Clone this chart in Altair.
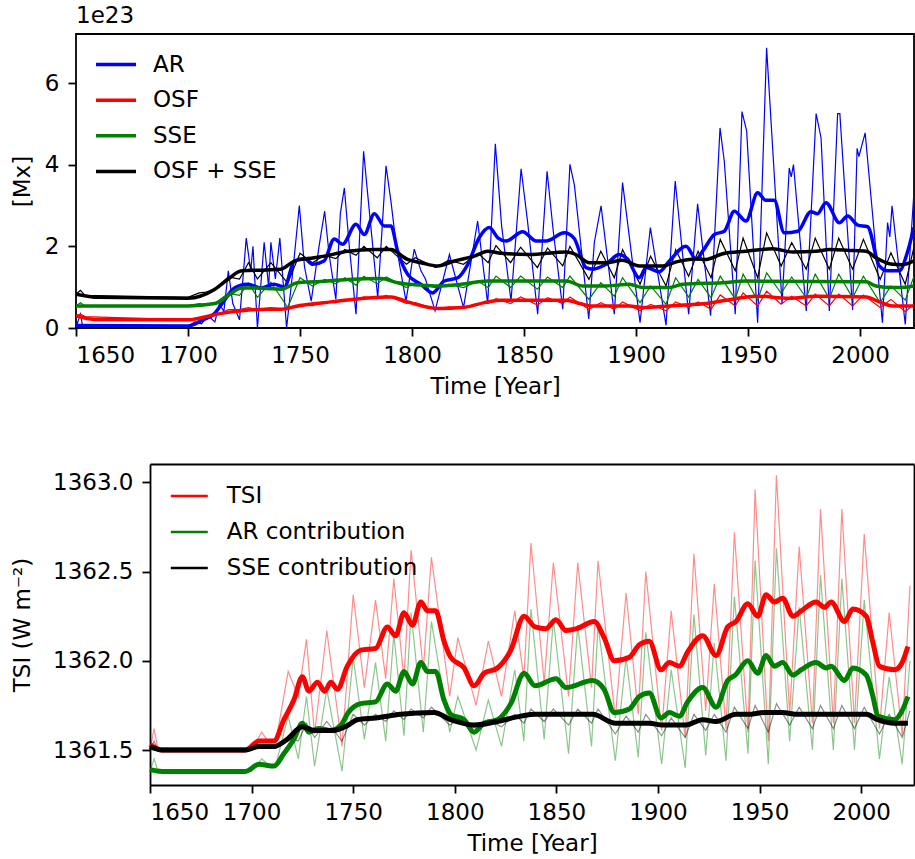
import altair as alt
import pandas as pd

FONT = "DejaVu Sans"
FS = 23

# ---------------- top panel (values in units of 1e23 Mx) ----------------
ar_thin_yr = [1650, 1652, 1653, 1700, 1703, 1706, 1709, 1712, 1714, 1716, 1718, 1720, 1723,
              1726, 1728, 1729, 1731, 1734, 1736, 1737, 1739, 1741, 1744, 1747, 1749.7, 1752,
              1755, 1758.5, 1761, 1763, 1766, 1768, 1769.8, 1772, 1775, 1778.4, 1780, 1784.7,
              1788.4, 1790.6, 1793, 1797.3, 1801, 1804, 1806, 1810.3, 1816.7, 1823, 1829.3,
              1833.8, 1837.2, 1840, 1844.2, 1848.7, 1851.6, 1856.1, 1860.3, 1863, 1867.3,
              1870.5, 1872.5, 1878.9, 1881.4, 1884.4, 1890.3, 1894, 1901.8, 1906.4, 1913.4,
              1917.5, 1923.5, 1927.5, 1933.3, 1937.5, 1939.4, 1944.3, 1947.3, 1949.4, 1954.3,
              1958.3, 1965.2, 1968.4, 1969.3, 1970.3, 1976, 1980.4, 1982.6, 1986.3, 1990,
              1991, 1996.7, 1998.7, 1999.5, 2002.3, 2010, 2012.3, 2013.3, 2014.3, 2020.2, 2024.2]
ar_thin_val = [0.02, 0.34, 0.03, 0.03, 0.15, 0.10, 0.30, 0.15, 0.60, 0.40, 1.40, 0.60, 0.20,
               2.20, 1.40, 2.00, 0.00, 2.10, 1.00, 2.10, 1.20, 2.20, 0.00, 1.50, 3.00, 1.50,
               0.66, 2.00, 2.86, 1.80, 0.70, 2.80, 3.43, 2.00, 0.34, 4.33, 3.40, 0.74,
               3.97, 3.10, 2.00, 0.66, 1.93, 1.40, 1.20, 0.42, 1.80, 0.50, 2.62,
               0.59, 4.51, 2.50, 0.66, 3.90, 2.60, 0.34, 3.84, 2.40, 0.46,
               4.01, 3.50, 0.22, 2.10, 2.99, 0.34, 3.56, 0.13, 2.46, 0.07,
               3.60, 0.34, 3.04, 0.30, 4.90, 4.09, 0.34, 5.30, 4.82, 0.13,
               6.86, 0.59, 3.92, 3.70, 4.00, 0.42, 5.25, 4.66, 0.42, 5.25,
               5.25, 0.44, 4.40, 4.20, 4.78, 0.13, 2.58, 2.23, 2.99, 0.09, 3.43]

ar_yr = [1650, 1700, 1706, 1711.7, 1716, 1720.7, 1726.6, 1732.6, 1738.4, 1743, 1747.5, 1752,
         1755.7, 1760.7, 1765.3, 1769, 1775, 1778.7, 1783.2, 1787.6, 1790.6, 1793.6, 1798,
         1804, 1809.2, 1814.4, 1820.4, 1824.9, 1830, 1834.5, 1838.3, 1842, 1849.4, 1855.4,
         1859.8, 1868, 1872.3, 1877.7, 1880.7, 1886.6, 1892.5, 1896, 1901.5, 1904.5, 1910.4,
         1914.9, 1922.3, 1926.8, 1930, 1935, 1939.4, 1943.9, 1949.1, 1954.3, 1957.9, 1961.7,
         1966.2, 1972.2, 1978.1, 1981, 1984.8, 1990.8, 1994.5, 1999, 2003.4, 2008.6, 2012.3,
         2017.5, 2021.3, 2024]
ar_val = [0.06, 0.05, 0.18, 0.35, 0.66, 0.98, 1.07, 0.98, 1.07, 1.00, 1.64, 1.70,
          1.56, 1.64, 2.18, 2.05, 2.54, 2.29, 2.80, 2.50, 2.50, 1.88, 1.32,
          1.07, 0.86, 1.15, 1.23, 1.56, 2.21, 2.46, 2.21, 2.13, 2.36, 2.13,
          2.13, 2.33, 2.20, 1.48, 1.44, 1.56, 1.80, 1.70, 1.23, 1.48, 1.38,
          1.64, 2.00, 1.69, 1.90, 2.29, 2.37, 2.86, 2.62, 3.31, 3.13, 3.13,
          2.33, 2.37, 2.85, 2.80, 3.07, 2.58, 2.74, 2.52, 2.48, 1.52, 1.40,
          1.40, 1.88, 2.46]

osf_yr = [1650, 1658, 1700, 1712.9, 1723.7, 1735, 1741.5, 1749, 1763.9, 1778.7, 1790.6, 1798,
          1811.5, 1823.4, 1833.8, 1839.7, 1868.8, 1874.8, 1880.7, 1897, 1903, 1914.9, 1926.8,
          1931.3, 1940.2, 1953.5, 1968.4, 1980.4, 2002.7, 2008.6, 2014.6, 2024]
osf_val = [0.30, 0.21, 0.20, 0.34, 0.42, 0.46, 0.46, 0.54, 0.64, 0.73, 0.76, 0.64,
           0.48, 0.51, 0.64, 0.68, 0.68, 0.60, 0.54, 0.54, 0.50, 0.54, 0.58,
           0.60, 0.68, 0.78, 0.73, 0.78, 0.76, 0.64, 0.54, 0.54]

sse_yr = [1650, 1700, 1712, 1718, 1724, 1735, 1741.5, 1749, 1756.4, 1771.4, 1786.2, 1793.6,
          1804, 1811.5, 1821.9, 1833.8, 1868.8, 1876.3, 1886.6, 1897, 1903, 1914.9, 1920.8,
          1938.7, 1949.1, 2002.7, 2007.1, 2014.6, 2020.5, 2024]
sse_val = [0.54, 0.54, 0.60, 0.80, 0.98, 0.97, 0.95, 1.11, 1.13, 1.19, 1.21, 1.11,
           1.05, 1.03, 1.07, 1.15, 1.15, 1.03, 1.03, 1.07, 0.99, 0.99, 1.07,
           1.11, 1.15, 1.13, 1.03, 0.99, 1.00, 1.03]

sum_yr = [1650, 1660, 1700, 1712, 1718, 1724, 1735, 1741.5, 1747.5, 1753.5, 1761, 1771.4,
          1783.2, 1790.6, 1798, 1804, 1811.5, 1818.9, 1827.8, 1833.8, 1839.7, 1852.4, 1868.8,
          1873.2, 1879.2, 1886.6, 1894, 1901.5, 1912, 1918, 1926.8, 1931.3, 1938.7, 1949.1,
          1961, 1969.9, 1980.4, 1986.3, 1995.2, 2002.7, 2007.1, 2014.6, 2019, 2024]
sum_val = [0.83, 0.75, 0.73, 0.95, 1.20, 1.40, 1.42, 1.44, 1.64, 1.70, 1.76, 1.88,
           1.92, 1.92, 1.68, 1.60, 1.52, 1.64, 1.76, 1.88, 1.83, 1.80, 1.86,
           1.80, 1.60, 1.60, 1.66, 1.52, 1.52, 1.62, 1.69, 1.68, 1.82, 1.88,
           1.94, 1.86, 1.88, 1.92, 1.90, 1.88, 1.72, 1.56, 1.55, 1.64]

# years of the cycle minima / maxima used by the annual OSF, SSE and contribution curves
cyc_yr = [1650, 1652, 1654, 1700, 1705, 1708,
          1712, 1718, 1723, 1727, 1731, 1737, 1744.5, 1750, 1755.5, 1761, 1766, 1770,
          1775, 1778.5, 1784.5, 1788.5, 1797.5, 1801.5, 1810.5, 1816.5, 1823, 1829.5,
          1834, 1837.5, 1844, 1848.5, 1856, 1860.5, 1867.3, 1870.5, 1879, 1884.3, 1890.3,
          1894, 1901.8, 1906.5, 1913.4, 1917.7, 1923.5, 1927.7, 1933.5, 1937.6, 1944.3,
          1947.8, 1954.3, 1958.3, 1964.8, 1969.5, 1976, 1980, 1986.3, 1990.5, 1996.7,
          2001.5, 2009, 2013.8, 2020.2, 2024]
osf_thin_val = [0.30, 0.34, 0.28, 0.20, 0.25, 0.28,
                0.30, 0.45, 0.45, 0.50, 0.45, 0.50, 0.45, 0.58, 0.55, 0.64, 0.62, 0.70,
                0.68, 0.76, 0.72, 0.80, 0.60, 0.62, 0.46, 0.52, 0.50, 0.60,
                0.60, 0.72, 0.60, 0.76, 0.56, 0.74, 0.60, 0.76, 0.46, 0.62, 0.46,
                0.64, 0.42, 0.58, 0.42, 0.64, 0.50, 0.64, 0.46, 0.81, 0.54,
                0.86, 0.54, 0.90, 0.58, 0.78, 0.54, 0.83, 0.54, 0.83, 0.54,
                0.81, 0.50, 0.70, 0.40, 0.58]
sse_thin_val = [0.54, 0.62, 0.54, 0.54, 0.60, 0.58,
                0.60, 0.85, 0.80, 1.10, 0.75, 1.12, 0.50, 1.23, 1.03, 1.19, 1.08, 1.23,
                1.05, 1.27, 1.08, 1.25, 0.99, 1.11, 0.99, 1.07, 0.99, 1.15,
                0.99, 1.27, 0.99, 1.27, 0.95, 1.25, 0.99, 1.27, 0.70, 1.11, 0.78,
                1.23, 0.62, 1.03, 0.58, 1.23, 0.76, 1.19, 0.74, 1.27, 0.71,
                1.32, 0.68, 1.35, 0.85, 1.25, 0.74, 1.32, 0.72, 1.32, 0.74,
                1.27, 0.62, 1.03, 0.68, 1.25]
sum_thin_val = [0.83, 0.92, 0.80, 0.75, 0.86, 0.88,
                0.95, 1.25, 1.20, 1.60, 1.20, 1.60, 1.10, 1.83, 1.60, 1.78, 1.70, 1.92,
                1.78, 2.00, 1.72, 2.00, 1.56, 1.72, 1.48, 1.66, 1.56, 1.83,
                1.60, 2.02, 1.60, 1.98, 1.48, 1.96, 1.52, 2.00, 1.19, 1.88, 1.23,
                1.92, 1.07, 1.76, 1.03, 1.92, 1.27, 1.88, 1.23, 2.17, 1.40,
                2.20, 1.23, 2.33, 1.52, 2.09, 1.44, 2.20, 1.44, 2.20, 1.44,
                2.17, 1.19, 1.84, 1.07, 1.96]

# ---------------- bottom panel (W m-2) ----------------
tsi_yr = [1650, 1656, 1697, 1703.6, 1711, 1715.9, 1720.8, 1725, 1728.2, 1732.4, 1736, 1739,
          1742.2, 1747.1, 1753.7, 1761.1, 1766.8, 1770.9, 1775, 1779.2, 1783.3, 1786.6, 1790.6,
          1794.7, 1798, 1804.6, 1809.5, 1814.4, 1821, 1827.6, 1834.1, 1839.5, 1844.8, 1849.8,
          1854.7, 1860, 1868.6, 1873.5, 1878.5, 1885.9, 1890.8, 1895.7, 1901.5, 1905.6, 1910.5,
          1914.6, 1922, 1928.6, 1934.3, 1938.4, 1944.2, 1949.1, 1953.2, 1957.3, 1961.4, 1966.4,
          1970.5, 1977.8, 1982, 1985.2, 1991.8, 1995.9, 2002.5, 2005.8, 2009, 2016.4, 2019.7,
          2023]
tsi_val = [1361.53, 1361.50, 1361.50, 1361.55, 1361.55, 1361.67, 1361.78, 1361.91, 1361.83,
           1361.88, 1361.83, 1361.88, 1361.84, 1361.97, 1362.06, 1362.07, 1362.19, 1362.14,
           1362.27, 1362.20, 1362.33, 1362.28, 1362.28, 1362.11, 1362.02, 1361.96, 1361.86,
           1361.93, 1361.96, 1362.06, 1362.25, 1362.19, 1362.18, 1362.23, 1362.17, 1362.18,
           1362.22, 1362.13, 1362.00, 1362.02, 1362.09, 1362.11, 1361.95, 1361.99, 1361.97,
           1362.05, 1362.14, 1362.03, 1362.19, 1362.22, 1362.32, 1362.25, 1362.37, 1362.33,
           1362.35, 1362.25, 1362.28, 1362.33, 1362.30, 1362.33, 1362.22, 1362.29, 1362.25,
           1362.10, 1361.97, 1361.95, 1361.98, 1362.08]

arc_yr = [1650, 1656, 1697, 1703.6, 1711, 1715.9, 1720.8, 1725, 1728.2, 1733, 1739, 1744,
          1747.6, 1753.7, 1761, 1766.8, 1770.9, 1775, 1779.2, 1783.3, 1786.6, 1790.6, 1794.7,
          1798, 1804.6, 1809.5, 1814.4, 1821, 1827.6, 1834.1, 1839.5, 1849.8, 1854.7, 1867.8,
          1873.5, 1878.5, 1885.9, 1890.8, 1895.7, 1901.5, 1905.6, 1910.5, 1914.6, 1922, 1928.6,
          1934.3, 1938, 1944.2, 1949.1, 1953.2, 1957.3, 1961.4, 1966.4, 1970.5, 1977.8, 1982.8,
          1985.2, 1991.8, 1995.9, 2002.5, 2005.8, 2008.2, 2016.4, 2019.7, 2023]
arc_val = [1361.39, 1361.38, 1361.38, 1361.42, 1361.41, 1361.48, 1361.56, 1361.65, 1361.60,
           1361.62, 1361.61, 1361.64, 1361.71, 1361.76, 1361.77, 1361.87, 1361.83, 1361.94,
           1361.87, 1361.99, 1361.94, 1361.94, 1361.78, 1361.70, 1361.67, 1361.60, 1361.65,
           1361.67, 1361.76, 1361.93, 1361.86, 1361.90, 1361.85, 1361.89, 1361.84, 1361.71,
           1361.73, 1361.80, 1361.82, 1361.68, 1361.71, 1361.69, 1361.77, 1361.85, 1361.74,
           1361.89, 1361.92, 1362.00, 1361.93, 1362.03, 1361.97, 1361.99, 1361.92, 1361.95,
           1361.99, 1361.96, 1361.97, 1361.89, 1361.96, 1361.92, 1361.80, 1361.69, 1361.67,
           1361.71, 1361.80]

ssec_yr = [1650, 1656, 1697, 1703.6, 1711, 1717.5, 1725, 1730.8, 1740, 1747.6, 1752, 1761,
           1773.3, 1789.8, 1798, 1809.5, 1821, 1832.5, 1839.9, 1867.8, 1879.2, 1895.7, 1902.3,
           1913.8, 1922, 1928.6, 1938.4, 1944.2, 1952.4, 1961, 1969, 1985, 2002.5, 2008.2,
           2016.4, 2023]
ssec_val = [1361.52, 1361.50, 1361.50, 1361.52, 1361.52, 1361.56, 1361.63, 1361.61, 1361.61,
            1361.64, 1361.67, 1361.68, 1361.70, 1361.71, 1361.67, 1361.64, 1361.66, 1361.69,
            1361.70, 1361.70, 1361.65, 1361.65, 1361.64, 1361.64, 1361.67, 1361.66, 1361.70,
            1361.70, 1361.71, 1361.71, 1361.70, 1361.70, 1361.70, 1361.67, 1361.65, 1361.65]

tsi_thin_val = [1361.50, 1361.62, 1361.50, 1361.50, 1361.60, 1361.55,
                1361.55, 1361.94, 1361.80, 1362.12, 1361.59, 1362.17, 1361.52, 1362.37,
                1361.85, 1362.34, 1361.90, 1362.46, 1361.90, 1362.62, 1361.95, 1362.58,
                1361.80, 1362.13, 1361.75, 1362.11, 1361.80, 1362.28, 1361.90, 1362.66,
                1361.88, 1362.55, 1361.80, 1362.55, 1361.85, 1362.56, 1361.68, 1362.38,
                1361.70, 1362.50, 1361.61, 1362.28, 1361.57, 1362.60, 1361.72, 1362.43,
                1361.62, 1362.72, 1361.60, 1362.96, 1361.55, 1363.04, 1361.70, 1362.64,
                1361.65, 1362.85, 1361.65, 1362.85, 1361.65, 1362.71, 1361.62, 1362.27,
                1361.58, 1362.42]
arc_thin_val = [1361.38, 1361.45, 1361.38, 1361.38, 1361.45, 1361.42,
                1361.42, 1361.69, 1361.45, 1361.80, 1361.41, 1361.84, 1361.38, 1362.02,
                1361.56, 1361.99, 1361.55, 1362.15, 1361.58, 1362.27, 1361.60, 1362.22,
                1361.60, 1361.80, 1361.50, 1361.78, 1361.52, 1361.95, 1361.55, 1362.29,
                1361.56, 1362.23, 1361.48, 1362.20, 1361.52, 1362.20, 1361.44, 1362.02,
                1361.46, 1362.16, 1361.42, 1361.95, 1361.40, 1362.26, 1361.47, 1362.10,
                1361.44, 1362.36, 1361.48, 1362.56, 1361.42, 1362.63, 1361.55, 1362.30,
                1361.50, 1362.48, 1361.50, 1362.46, 1361.50, 1362.34, 1361.45, 1361.91,
                1361.42, 1362.00]
ssec_thin_val = [1361.50, 1361.55, 1361.50, 1361.50, 1361.53, 1361.52,
                 1361.52, 1361.57, 1361.55, 1361.65, 1361.57, 1361.66, 1361.55, 1361.70,
                 1361.64, 1361.70, 1361.66, 1361.72, 1361.67, 1361.73, 1361.68, 1361.74,
                 1361.64, 1361.67, 1361.62, 1361.67, 1361.63, 1361.70, 1361.65, 1361.73,
                 1361.66, 1361.73, 1361.64, 1361.73, 1361.65, 1361.73, 1361.59, 1361.69,
                 1361.60, 1361.70, 1361.58, 1361.68, 1361.57, 1361.70, 1361.61, 1361.70,
                 1361.60, 1361.74, 1361.62, 1361.75, 1361.60, 1361.76, 1361.64, 1361.74,
                 1361.62, 1361.75, 1361.62, 1361.75, 1361.62, 1361.74, 1361.59, 1361.70,
                 1361.57, 1361.72]

x_ticks = [1650, 1700, 1750, 1800, 1850, 1900, 1950, 2000]
top_names = ["AR", "OSF", "SSE", "OSF + SSE"]
top_colors = ["#0000ff", "#ff0000", "#008000", "#000000"]
bot_names = ["TSI", "AR contribution", "SSE contribution"]
bot_colors = ["#ff0000", "#008000", "#000000"]


def long(series, col):
    rows = []
    for name, yrs, vals in series:
        assert len(yrs) == len(vals), name
        for y, v in zip(yrs, vals):
            rows.append({"year": y, "value": v, col: name})
    return pd.DataFrame(rows)


top_thin = long([("AR", ar_thin_yr, ar_thin_val), ("OSF", cyc_yr, osf_thin_val),
                 ("SSE", cyc_yr, sse_thin_val), ("OSF + SSE", cyc_yr, sum_thin_val)], "t_series")
top_thick = long([("AR", ar_yr, ar_val), ("OSF", osf_yr, osf_val),
                  ("SSE", sse_yr, sse_val), ("OSF + SSE", sum_yr, sum_val)], "t_series")
bot_thin = long([("TSI", cyc_yr, tsi_thin_val), ("AR contribution", cyc_yr, arc_thin_val),
                 ("SSE contribution", cyc_yr, ssec_thin_val)], "b_series")
bot_thick = long([("TSI", tsi_yr, tsi_val), ("AR contribution", arc_yr, arc_val),
                  ("SSE contribution", ssec_yr, ssec_val)], "b_series")

AX = dict(labelFont=FONT, labelFontSize=FS, titleFont=FONT, titleFontSize=FS,
          titleFontWeight="normal", labelColor="black", titleColor="black",
          tickColor="black", tickWidth=1.8, tickSize=8, grid=False,
          domainColor="black", domainWidth=1.8)
FRAME = dict(labels=False, ticks=False, title=None, domain=True, grid=False,
             domainColor="black", domainWidth=1.8)

# ---------------- top panel ----------------
TOP_W, TOP_H = 838, 294
x_top = alt.X("year:Q", scale=alt.Scale(domain=[1650, 2024.1], nice=False, zero=False),
              axis=alt.Axis(values=x_ticks, format="d", title="Time [Year]",
                            titlePadding=8, labelPadding=8, domain=False, **AX))
y_top = alt.Y("value:Q", scale=alt.Scale(domain=[0, 7.2], nice=False, zero=False),
              axis=alt.Axis(values=[0, 2, 4, 6], title="[Mx]", titlePadding=10,
                            labelPadding=9, domain=False, **AX))
c_top = alt.Color("t_series:N", scale=alt.Scale(domain=top_names, range=top_colors),
                  sort=top_names,
                  legend=alt.Legend(title=None, orient="none", legendX=28, legendY=18.6,
                                    symbolType="M-2,0L2,0", symbolSize=400,
                                    symbolStrokeWidth=3.5, symbolOffset=0,
                                    labelFontSize=FS, labelFont=FONT, labelOffset=25,
                                    labelLimit=500, rowPadding=11.6, padding=0,
                                    symbolOpacity=1, labelColor="black"))
top = alt.layer(
    alt.Chart(top_thin).mark_line(strokeWidth=1.2, clip=True)
    .encode(x=x_top, y=y_top, color=c_top),
    alt.Chart(top_thick).mark_line(strokeWidth=3.5, clip=True, interpolate="monotone")
    .encode(x=x_top, y=y_top, color=c_top),
).properties(width=TOP_W, height=TOP_H,
             view=alt.ViewBackground(stroke="black", strokeWidth=1.8),
             title=alt.TitleParams("1e23", anchor="start", frame="group", fontSize=FS,
                                   fontWeight="normal", font=FONT, offset=6, color="black"))

# ---------------- bottom panel ----------------
# the bottom plot frame starts SHIFT px right of the top one (its tick labels are wider)
SHIFT = 74
bx_scale = alt.Scale(domain=[1650, 2026], nice=False, zero=False, range=[SHIFT, TOP_W])
by_scale = alt.Scale(domain=[1361.304, 1363.103], nice=False, zero=False)
x_bot = alt.X("year:Q", scale=bx_scale,
              axis=alt.Axis(values=x_ticks, format="d", title="Time [Year]",
                            titlePadding=8, labelPadding=8, domain=True, **AX))
y_bot = alt.Y("value:Q", scale=by_scale,
              axis=alt.Axis(values=[1361.5, 1362.0, 1362.5, 1363.0], format=".1f",
                            title="TSI (W m⁻²)", titlePadding=18, labelPadding=9,
                            offset=-SHIFT, domain=True, **AX))
x_bot_top = alt.X("year:Q", scale=bx_scale, axis=alt.Axis(orient="top", **FRAME))
y_bot_right = alt.Y("value:Q", scale=by_scale, axis=alt.Axis(orient="right", **FRAME))
c_bot = alt.Color("b_series:N", scale=alt.Scale(domain=bot_names, range=bot_colors),
                  sort=bot_names,
                  legend=alt.Legend(title=None, orient="none", legendX=27.8 + SHIFT,
                                    legendY=20.5, symbolType="M-2,0L2,0", symbolSize=342,
                                    symbolStrokeWidth=2.5, symbolOffset=0,
                                    labelFontSize=FS, labelFont=FONT, labelOffset=26,
                                    labelLimit=500, rowPadding=12, padding=0,
                                    symbolOpacity=1, labelColor="black"))
bottom = alt.layer(
    alt.Chart(bot_thin).mark_line(strokeWidth=1.2, opacity=0.45, clip=True)
    .encode(x=x_bot, y=y_bot, color=c_bot),
    alt.Chart(bot_thick).mark_line(strokeWidth=5, clip=True, interpolate="monotone")
    .encode(x=x_bot_top, y=y_bot_right, color=c_bot),
).resolve_axis(x="independent", y="independent").properties(
    width=TOP_W, height=321,
    view=alt.ViewBackground(stroke="transparent", strokeWidth=0))

chart = alt.vconcat(top, bottom, spacing=65).resolve_scale(
    color="independent"
).properties(
    padding={"left": 10, "top": 4, "right": 0, "bottom": 0}
).configure(font=FONT)

chart.save("out.html", embed_options={"renderer": "svg", "actions": False})
